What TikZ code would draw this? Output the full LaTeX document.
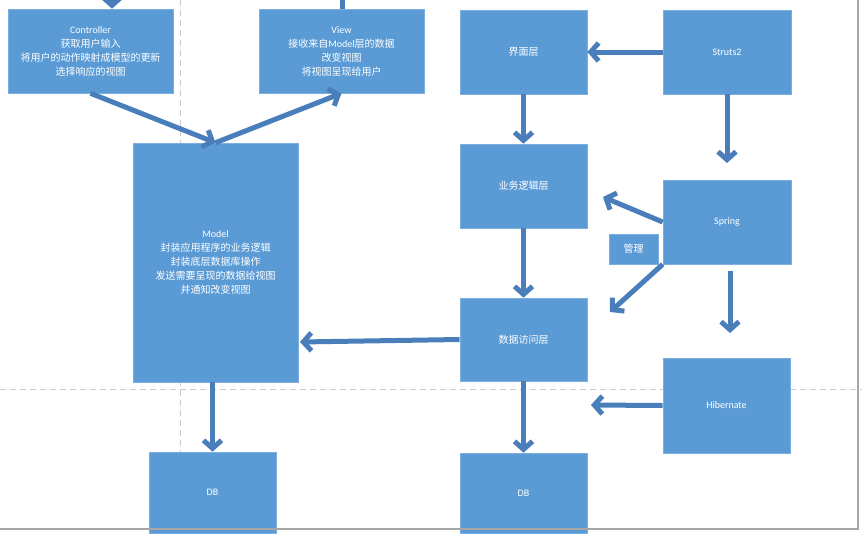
\documentclass[tikz,border=0pt]{standalone}
\usepackage{fontspec}
\setmainfont{Noto Sans CJK SC}
\newfontfamily\latf{Carlito}
\usetikzlibrary{arrows.meta,calc}
\definecolor{boxblue}{HTML}{5B9BD5}
\definecolor{arrblue}{HTML}{4A7EBB}
\begin{document}
\begin{tikzpicture}[x=1pt,y=-1pt,
  box/.style={rectangle, fill=boxblue, draw=boxblue!80!white, line width=0.6pt, text=white, inner sep=0pt, align=center, font=\fontsize{10}{14}\selectfont},
  conn/.style={draw=arrblue, line width=5pt, -{Straight Barb[length=8pt,width=18pt]}},
  plainline/.style={draw=arrblue, line width=5pt},
  guide/.style={draw=gray!40, line width=1pt, dash pattern=on 6pt off 4pt}]
\useasboundingbox (0,0) rectangle (862,533);
\clip (0,0) rectangle (862,533);
\fill[white] (0,0) rectangle (862,533);
% guide lines
\draw[guide] (180,0) -- (180,452);
\draw[guide] (0,389) -- (862,389);
% boxes
\node[box, minimum width=165pt, minimum height=84pt] (ctrl) at (90.5,51) {{\latf Controller}\\获取用户输入\\将用户的动作映射成模型的更新\\选择响应的视图};
\node[box, minimum width=165pt, minimum height=84pt] (view) at (341.5,51) {{\latf View}\\接收来自{\latf Model}层的数据\\改变视图\\将视图呈现给用户};
\node[box, minimum width=165pt, minimum height=239pt] (model) at (215.5,262.5) {{\latf Model}\\封装应用程序的业务逻辑\\封装底层数据库操作\\发送需要呈现的数据给视图\\并通知改变视图};
\node[box, minimum width=127pt, minimum height=81pt] (dbl) at (212.5,492.5) {\latf DB};
\node[box, minimum width=127pt, minimum height=84pt] (jiemian) at (523.5,52) {界面层};
\node[box, minimum width=128pt, minimum height=84pt] (struts) at (727,52) {\latf Struts2};
\node[box, minimum width=127pt, minimum height=84pt] (yewu) at (523.5,186) {业务逻辑层};
\node[box, minimum width=127pt, minimum height=83pt] (shuju) at (523.5,339.5) {数据访问层};
\node[box, minimum width=128pt, minimum height=84pt] (spring) at (727,222) {\latf Spring};
\node[box, minimum width=49pt, minimum height=30pt] (guanli) at (633.5,249) {管理};
\node[box, minimum width=127pt, minimum height=95pt] (hib) at (726.5,405.5) {\latf Hibernate};
\node[box, minimum width=127pt, minimum height=80pt] (dbr) at (523.5,493) {\latf DB};
% free ends
\coordinate (topin) at (112,-20);
\coordinate (topout) at (342,-20);
\coordinate (strutsend) at (727,163);
\coordinate (toyewu) at (603,197);
\coordinate (toshuju) at (610,312);
\coordinate (springstart) at (730,271);
\coordinate (springend) at (730,333);
\coordinate (hibend) at (591,405);
\coordinate (modelin) at (300,342);
% connectors
\draw[conn] (topin) -- (topin |- ctrl.north);
\draw[plainline] (view.north -| topout) -- (topout);
\draw[conn] (ctrl.south) -- (model.north);
\draw[conn] (model.north) -- (view.south);
\draw[conn] (struts.west) -- (jiemian.east);
\draw[conn] (jiemian.south) -- (yewu.north);
\draw[conn] (struts.south) -- (strutsend);
\draw[conn] (yewu.south) -- (shuju.north);
\draw[conn] (spring.west) -- (toyewu);
\draw[conn] (spring.south west) -- (toshuju);
\draw[conn] (springstart) -- (springend);
\draw[conn] (hib.west) -- (hibend);
\draw[conn] (shuju.west) -- (modelin);
\draw[conn] (model.south -| dbl.north) -- (dbl.north);
\draw[conn] (shuju.south) -- (dbr.north);
% frame shadow
\draw[gray!70, line width=1.5pt] (858,0) -- (858,529) -- (0,529);
\end{tikzpicture}
\end{document}
